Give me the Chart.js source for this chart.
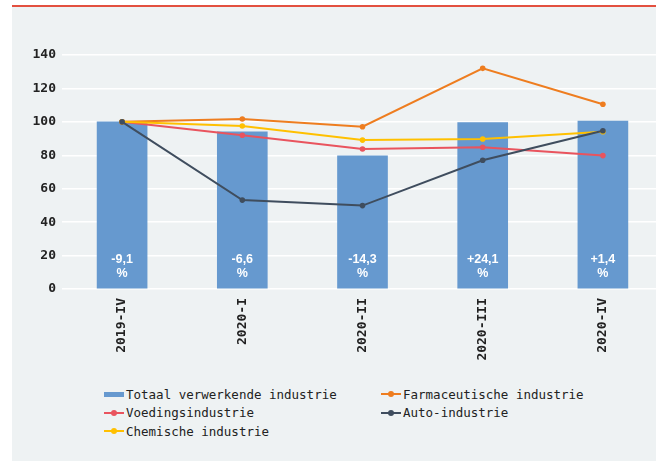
<!DOCTYPE html>
<html>
<head>
<meta charset="utf-8">
<script src="https://cdn.jsdelivr.net/npm/chart.js@4/dist/chart.umd.min.js"></script>
<style>
  html, body { margin: 0; padding: 0; background: #fff; width: 656px; height: 461px; overflow: hidden; }
  #panel { position: absolute; left: 12px; top: 5px; right: 0; bottom: 0; background: #eef2f3; border-top: 2px solid #e3503f; }
  #wrap { position: absolute; left: 0; top: 0; width: 667px; height: 370px; }
  #legend { position: absolute; left: 104px; top: 385px; display: grid; grid-template-columns: 277px 260px; grid-auto-rows: 18.5px;
            font: 12.5px "DejaVu Sans Mono", monospace; color: #222; }
  .item { display: flex; align-items: center; white-space: nowrap; }
  .sw { position: relative; width: 20px; height: 2px; margin-right: 2px; }
  .sw.bar { height: 5px; }
  .dot { position: absolute; left: 7px; top: -2px; width: 6px; height: 6px; border-radius: 50%; }
</style>
</head>
<body>
<div id="panel"></div>
<div id="wrap"><canvas id="industry-chart" width="667" height="370"></canvas></div>
<div id="legend"></div>
<script>
let quarters = ['2019-IV', '2020-I', '2020-II', '2020-III', '2020-IV'];
let totaal = [100, 94.1, 79.6, 99.5, 100.5];
let farma = [100, 101.7, 97.1, 132, 110.5];
let voeding = [100, 92.0, 83.8, 84.8, 79.8];
let auto = [100, 53.2, 49.9, 77.0, 94.7];
let chemie = [100, 97.5, 89.1, 89.7, 94.1];
let changeLabels = ['-9,1', '-6,6', '-14,3', '+24,1', '+1,4'];

// white change labels at the foot of each bar
const barLabels = {
    id: 'barLabels',
    afterDatasetsDraw(chart) {
        let ctx = chart.ctx;
        let meta = chart.getDatasetMeta(0);
        let y0 = chart.scales.y.getPixelForValue(0);
        ctx.save();
        ctx.fillStyle = '#fff';
        ctx.font = 'bold 12.5px "Liberation Sans", Arial, sans-serif';
        ctx.textAlign = 'center';
        ctx.textBaseline = 'middle';
        meta.data.forEach(function(bar, i) {
            ctx.fillText(changeLabels[i], bar.x, y0 - 29);
            ctx.fillText('%', bar.x, y0 - 15);
        });
        ctx.restore();
    }
};

function lineSet(label, data, color, order) {
    return {
        type: 'line', label: label, data: data,
        borderColor: color, backgroundColor: color,
        borderWidth: 2, pointRadius: 2.8, pointBorderWidth: 0,
        tension: 0, order: order
    };
}

function renderChart() {
    let ctx = document.getElementById('industry-chart');
    let tickFont = { family: '"DejaVu Sans Mono", monospace', size: 13, weight: 'bold' };
    return new Chart(ctx, {
        type: 'bar',
        data: {
            labels: quarters,
            datasets: [
                { label: 'Totaal verwerkende industrie', data: totaal, backgroundColor: '#6699cf', barThickness: 50, order: 10 },
                lineSet('Farmaceutische industrie', farma, '#ee7d1f', 4),
                lineSet('Voedingsindustrie', voeding, '#e9545e', 3),
                lineSet('Auto-industrie', auto, '#3f4d5e', 1),
                lineSet('Chemische industrie', chemie, '#ffc000', 2)
            ]
        },
        options: {
            responsive: false,
            animation: false,
            layout: { padding: { top: 55, left: 0, right: 0, bottom: 0 } },
            plugins: { legend: { display: false }, tooltip: { enabled: false } },
            scales: {
                x: {
                    grid: { display: false, drawTicks: false },
                    border: { display: false },
                    ticks: { maxRotation: 90, minRotation: 90, padding: 9, color: '#222', font: tickFont },
                    afterFit: function(scale) { scale.height = 81; }
                },
                y: {
                    min: 0, max: 140,
                    grid: { color: '#ffffff', lineWidth: 1.5, drawTicks: false },
                    border: { display: false },
                    ticks: { stepSize: 20, padding: 6, color: '#222', font: tickFont },
                    afterFit: function(scale) { scale.width = 62; }
                }
            }
        },
        plugins: [barLabels]
    });
}

function renderLegend(chart) {
    let box = document.getElementById('legend');
    chart.data.datasets.forEach(function(ds) {
        let item = document.createElement('div');
        item.className = 'item';
        let sw = document.createElement('span');
        if (ds.type === 'line') {
            sw.className = 'sw';
            sw.style.background = ds.borderColor;
            let dot = document.createElement('span');
            dot.className = 'dot';
            dot.style.background = ds.borderColor;
            sw.appendChild(dot);
        } else {
            sw.className = 'sw bar';
            sw.style.background = ds.backgroundColor;
        }
        let txt = document.createElement('span');
        txt.textContent = ds.label;
        item.appendChild(sw);
        item.appendChild(txt);
        box.appendChild(item);
    });
}

renderLegend(renderChart());
</script>
</body>
</html>
